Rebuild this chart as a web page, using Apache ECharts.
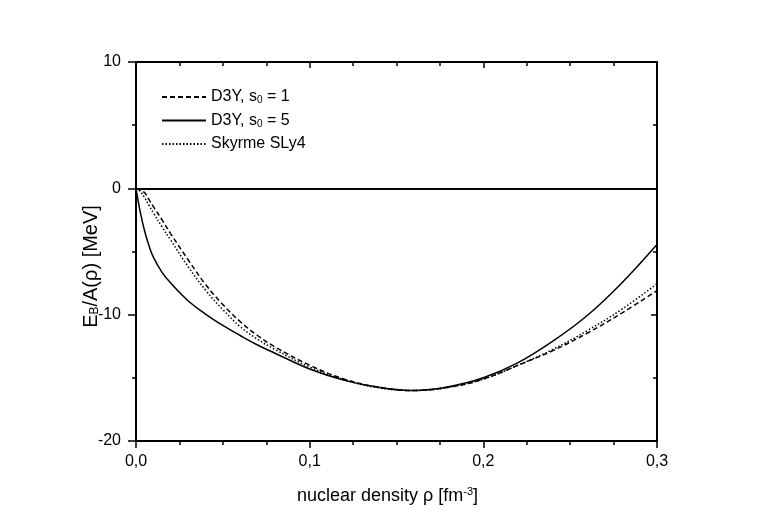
<!DOCTYPE html>
<html><head><meta charset="utf-8">
<script src="https://cdn.jsdelivr.net/npm/echarts@6/dist/echarts.min.js"></script>
<style>html,body{margin:0;padding:0;background:#fff}#c{width:763px;height:532px}</style>
</head><body><div id="c"></div>
<script>
const rho = [0, 0.0025, 0.005, 0.0075, 0.01, 0.015, 0.02, 0.03, 0.04, 0.05, 0.06, 0.07, 0.08, 0.10, 0.12, 0.14, 0.16, 0.18, 0.20, 0.22, 0.24, 0.26, 0.28, 0.30];
const d3yS1 = [0, -0.15, -0.35, -0.9, -1.45, -2.5, -3.6, -5.65, -7.6, -9.2, -10.55, -11.65, -12.55, -14.0, -15.1, -15.75, -16.0, -15.75, -15.1, -14.0, -12.85, -11.45, -9.85, -8.1];
const d3yS5 = [0, -1.9, -3.4, -4.55, -5.45, -6.65, -7.5, -8.9, -9.95, -10.85, -11.65, -12.4, -13.05, -14.3, -15.2, -15.75, -16.0, -15.7, -15.0, -13.8, -12.1, -10.05, -7.45, -4.45];
const skyrme = [0, -0.25, -0.75, -1.35, -1.95, -3.05, -4.1, -6.2, -8.05, -9.6, -10.95, -11.95, -12.75, -14.15, -15.15, -15.8, -16.0, -15.75, -15.1, -14.0, -12.75, -11.25, -9.55, -7.55];
const xTicks = ['0,0', '0,1', '0,2', '0,3'];
const seriesNames = ['D3Y s0=1', 'D3Y s0=5', 'Skyrme SLy4'];
const legendLabels = {
  'D3Y s0=1': 'D3Y, s{sub|0} = 1',
  'D3Y s0=5': 'D3Y, s{sub|0} = 5',
  'Skyrme SLy4': 'Skyrme SLy4'
};

const FONT = 'Liberation Sans, Arial, sans-serif';
const pair = (ys) => rho.map((x, i) => [x, ys[i]]);
const chart = echarts.init(document.getElementById('c'), null, {renderer: 'canvas'});
const lineSeries = (name, ys, type, extra) => Object.assign({
  name, type: 'line', data: pair(ys), symbol: 'none', showSymbol: false, smooth: 0.4,
  lineStyle: {color: '#000', width: 1.5, type},
  itemStyle: {color: '#000'}, z: 3
}, extra || {});

chart.setOption({
  animation: false,
  backgroundColor: '#fff',
  textStyle: {fontFamily: FONT, color: '#000'},
  grid: {left: 136, right: 106, top: 62, bottom: 91},
  legend: {
    orient: 'vertical', left: 156, top: 84,
    itemWidth: 44, itemHeight: 10, itemGap: 7,
    data: seriesNames,
    itemStyle: {color: 'rgba(0,0,0,0)', borderWidth: 0},
    formatter: (n) => legendLabels[n],
    textStyle: {fontFamily: FONT, fontSize: 16, color: '#000',
      rich: {sub: {fontSize: 10, verticalAlign: 'bottom', padding: [7, 0, 0, 0], fontFamily: FONT}}}
  },
  xAxis: [{
    type: 'value', min: 0, max: 0.3, interval: 0.1,
    axisLine: {onZero: false, lineStyle: {color: '#000', width: 2}},
    axisTick: {show: true, inside: false, length: 7, lineStyle: {color: '#000', width: 1.5}},
    minorTick: {show: true, splitNumber: 4, length: 4, lineStyle: {color: '#000', width: 1.5}},
    splitLine: {show: false},
    axisLabel: {fontSize: 16, color: '#000', fontFamily: FONT, margin: 13,
      formatter: (v) => xTicks[Math.round(v * 10)]},
    name: 'nuclear density ρ [fm{sup|-3}]', nameLocation: 'middle', nameGap: 45,
    nameTextStyle: {fontSize: 18, color: '#000', fontFamily: FONT, padding: [0, 18, 0, 0],
      rich: {sup: {fontSize: 11, verticalAlign: 'top', padding: [0, 0, 10, 0], fontFamily: FONT}}}
  }, {
    type: 'value', position: 'top', min: 0, max: 0.3, interval: 0.1,
    axisLine: {onZero: false, lineStyle: {color: '#000', width: 2}},
    axisTick: {show: true, inside: true, length: 6, lineStyle: {color: '#000', width: 1.5}},
    minorTick: {show: true, splitNumber: 4, length: 4, lineStyle: {color: '#000', width: 1.5}},
    splitLine: {show: false}, axisLabel: {show: false}
  }],
  yAxis: [{
    type: 'value', min: -20, max: 10, interval: 10,
    axisLine: {onZero: false, lineStyle: {color: '#000', width: 2}},
    axisTick: {show: true, inside: false, length: 8, lineStyle: {color: '#000', width: 1.5}},
    minorTick: {show: true, splitNumber: 2, length: 4, lineStyle: {color: '#000', width: 1.5}},
    splitLine: {show: false},
    axisLabel: {fontSize: 16, color: '#000', fontFamily: FONT, margin: 15},
    name: 'E{sub|B}/A(ρ) [MeV]', nameLocation: 'middle', nameGap: 35, nameRotate: 90,
    nameMoveOverlap: false,
    nameTextStyle: {fontSize: 20, color: '#000', fontFamily: FONT, padding: [0, 30, 0, 0],
      rich: {sub: {fontSize: 12, verticalAlign: 'bottom', padding: [8, 0, 0, 0], fontFamily: FONT}}}
  }, {
    type: 'value', position: 'right', min: -20, max: 10, interval: 10,
    axisLine: {onZero: false, lineStyle: {color: '#000', width: 2}},
    axisTick: {show: true, inside: true, length: 6, lineStyle: {color: '#000', width: 1.5}},
    minorTick: {show: true, splitNumber: 2, length: 4, lineStyle: {color: '#000', width: 1.5}},
    splitLine: {show: false}, axisLabel: {show: false}
  }],
  series: [
    lineSeries(seriesNames[0], d3yS1, [5, 3], {
      markLine: {silent: true, symbol: 'none', label: {show: false},
        lineStyle: {color: '#000', width: 2, type: 'solid'}, data: [{yAxis: 0}]}
    }),
    lineSeries(seriesNames[1], d3yS5, 'solid'),
    lineSeries(seriesNames[2], skyrme, [1.5, 2])
  ]
});
</script></body></html>
